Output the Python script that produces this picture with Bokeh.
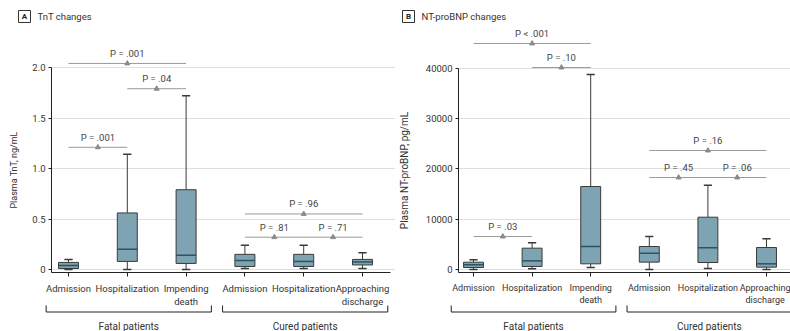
from bokeh.plotting import figure
from bokeh.layouts import row
from bokeh.models import FixedTicker, Range1d, ColumnDataSource, Grid
from bokeh.core.properties import value
from bokeh.embed import file_html
from bokeh.resources import INLINE

# ---------------- data ----------------
categories = ["Admission", "Hospitalization", "Impending\ndeath",
              "Admission", "Hospitalization", "Approaching\ndischarge"]
groups = ["Fatal patients", "Cured patients"]
group_first = [0, 3]
group_last = [2, 5]

# TnT, ng/mL (box plot statistics)
tnt_low = [0.0, 0.0, 0.0, 0.01, 0.01, 0.01]
tnt_q1 = [0.01, 0.08, 0.06, 0.03, 0.03, 0.045]
tnt_med = [0.04, 0.20, 0.14, 0.09, 0.08, 0.075]
tnt_q3 = [0.07, 0.56, 0.79, 0.15, 0.15, 0.10]
tnt_high = [0.10, 1.14, 1.72, 0.24, 0.24, 0.165]
tnt_ticks = [0, 0.5, 1.0, 1.5, 2.0]
tnt_tick_labels = ["0", "0.5", "1.0", "1.5", "2.0"]
tnt_p_from = [0, 0, 1, 3, 3, 4]
tnt_p_to = [1, 2, 2, 5, 4, 5]
tnt_p_level = [1.21, 2.04, 1.79, 0.55, 0.32, 0.32]
tnt_p_text = ["P = .001", "P = .001", "P = .04", "P = .96", "P = .81", "P = .71"]

# NT-proBNP, pg/mL
nt_low = [0, 150, 400, 0, 200, 0]
nt_q1 = [400, 600, 1130, 1460, 1390, 460]
nt_med = [930, 1720, 4570, 3250, 4310, 1130]
nt_q3 = [1450, 4240, 16500, 4570, 10400, 4370]
nt_high = [1930, 5300, 38770, 6560, 16760, 6100]
nt_ticks = [0, 10000, 20000, 30000, 40000]
nt_tick_labels = ["0", "10000", "20000", "30000", "40000"]
nt_p_from = [0, 1, 0, 3, 3, 4]
nt_p_to = [2, 2, 1, 5, 4, 5]
nt_p_level = [44930, 40160, 6560, 23660, 18290, 18290]
nt_p_text = ["P < .001", "P = .10", "P = .03", "P = .16", "P = .45", "P = .06"]

FONT_NAME = "Roboto"
FONT = value(FONT_NAME)
TXT = "#333333"
BOX_FILL = "#7ea3b3"
BOX_LINE = "#3a3a3a"
MED_LINE = "#2c5360"
P_LINE = "#9a9a9a"


def make_panel(letter, title, ylabel, low, q1, med, q3, high, ticks, tick_labels,
               p_from, p_to, p_level, p_text, lay):
    left, right, top, bottom = lay["left"], lay["right"], 0, 331
    cat0, sp, zero, ppu = lay["cat0"], lay["spacing"], 269, lay["ppu"]

    def dx(px):
        return (px - cat0) / sp

    def dy(py):
        return (zero - py) / ppu

    p = figure(width=right - left, height=bottom - top,
               x_range=Range1d(dx(left), dx(right)),
               y_range=Range1d(dy(bottom), dy(top)),
               output_backend="svg", toolbar_location=None,
               min_border_left=0, min_border_right=0,
               min_border_top=0, min_border_bottom=0)
    p.outline_line_color = None
    p.background_fill_color = "white"
    p.border_fill_color = "white"

    # ---- axes ----
    ya = p.yaxis[0]
    ya.fixed_location = dx(lay["yaxis"])
    ya.bounds = (dy(272), ticks[-1])
    ya.ticker = FixedTicker(ticks=ticks)
    ya.major_label_overrides = {t: l for t, l in zip(ticks, tick_labels)}
    ya.axis_label = ylabel
    ya.axis_label_text_font = FONT_NAME
    ya.axis_label_text_font_style = "normal"
    ya.axis_label_text_font_size = lay["ylab_size"]
    ya.axis_label_text_color = TXT
    ya.axis_label_standoff = lay["ylab_standoff"]
    ya.major_label_text_font = FONT_NAME
    ya.major_label_text_font_size = "9.5px"
    ya.major_label_text_color = TXT
    ya.major_label_standoff = 3
    ya.major_tick_out = 3
    ya.major_tick_in = 0
    ya.minor_tick_out = 0
    ya.minor_tick_in = 0
    ya.axis_line_color = "#222222"
    ya.major_tick_line_color = "#222222"

    xa = p.xaxis[0]
    xa.fixed_location = dy(272)
    xa.bounds = (dx(lay["yaxis"]), dx(lay["xright"]))
    xa.ticker = FixedTicker(ticks=list(range(len(categories))))
    xa.major_label_overrides = {i: c for i, c in enumerate(categories)}
    xa.major_label_text_font = FONT_NAME
    xa.major_label_text_font_size = lay["xlab_size"]
    xa.major_label_text_color = TXT
    xa.major_label_text_line_height = 1.25
    xa.major_label_standoff = 6
    xa.major_tick_out = 4
    xa.major_tick_in = 0
    xa.minor_tick_out = 0
    xa.minor_tick_in = 0
    xa.axis_line_color = "#222222"
    xa.major_tick_line_color = "#222222"

    p.xgrid.visible = False
    yg = p.ygrid[0]
    yg.ticker = FixedTicker(ticks=ticks)
    yg.grid_line_color = "#dedede"
    if "cross_bounds" in Grid.properties():
        yg.cross_bounds = (dx(lay["yaxis"]), dx(right))
    else:
        yg.visible = False
        p.segment(x0=[dx(lay["yaxis"])] * len(ticks), x1=[dx(right)] * len(ticks),
                  y0=ticks, y1=ticks, line_color="#dedede", line_width=1,
                  level="underlay")

    # ---- boxes ----
    xs = list(range(len(categories)))
    bw = 0.34
    cw = 0.07
    src = ColumnDataSource(dict(
        x=xs, low=low, q1=q1, med=med, q3=q3, high=high,
        xl=[x - bw / 2 for x in xs], xr=[x + bw / 2 for x in xs],
        cl=[x - cw for x in xs], cr=[x + cw for x in xs]))
    p.segment(x0="x", x1="x", y0="q3", y1="high", source=src, line_color=BOX_LINE, line_width=1)
    p.segment(x0="x", x1="x", y0="low", y1="q1", source=src, line_color=BOX_LINE, line_width=1)
    p.segment(x0="cl", x1="cr", y0="high", y1="high", source=src, line_color=BOX_LINE, line_width=1.5)
    p.segment(x0="cl", x1="cr", y0="low", y1="low", source=src, line_color=BOX_LINE, line_width=1.5)
    p.vbar(x="x", width=bw, bottom="q1", top="q3", source=src,
           fill_color=BOX_FILL, line_color=BOX_LINE, line_width=1)
    p.segment(x0="xl", x1="xr", y0="med", y1="med", source=src, line_color=MED_LINE, line_width=1.5)

    # ---- P value brackets ----
    psrc = ColumnDataSource(dict(
        x0=p_from, x1=p_to, y=p_level, t=p_text,
        xm=[(a + b) / 2 for a, b in zip(p_from, p_to)]))
    p.segment(x0="x0", x1="x1", y0="y", y1="y", source=psrc, line_color=P_LINE, line_width=1)
    p.scatter(x="xm", y="y", source=psrc, marker="triangle", size=5,
              fill_color="#8a8a8a", line_color="#8a8a8a")
    p.text(x="xm", y="y", text="t", source=psrc, text_font=FONT, text_font_size="9.5px",
           text_color="#444444", text_align="center", text_baseline="middle", y_offset=-10)

    # ---- group brackets ----
    bxs, bys, gx = [], [], []
    for a, b in zip(group_first, group_last):
        x0, x1 = a - 0.38, b + 0.43
        bxs.append([x0, x0, x1, x1])
        bys.append([dy(305), dy(311.5), dy(311.5), dy(305)])
        gx.append((x0 + x1) / 2)
    p.multi_line(xs=bxs, ys=bys, line_color="#222222", line_width=1)
    p.text(x=gx, y=[dy(326)] * len(gx), text=groups, text_font=FONT, text_font_size="10px",
           text_color=TXT, text_align="center", text_baseline="middle")

    # ---- panel title ----
    p.rect(x=[dx(lay["box_x"])], y=[dy(16)], width=12, height=12,
           width_units="screen", height_units="screen",
           fill_color="white", line_color="#333333", line_width=1)
    p.text(x=[dx(lay["box_x"])], y=[dy(16)], text=[letter], text_font=FONT,
           text_font_size="8px", text_font_style="bold", text_color="#222222",
           text_align="center", text_baseline="middle")
    p.text(x=[dx(lay["box_x"] + 13)], y=[dy(16)], text=[title], text_font=FONT,
           text_font_size="9.5px", text_color=TXT, text_align="left",
           text_baseline="middle")
    return p


lay_a = dict(left=0, right=395, cat0=68, spacing=58.8, ppu=101.0,
             yaxis=51, xright=390, box_x=24, ylab_size="9px", ylab_standoff=10,
             xlab_size="9.5px")
lay_b = dict(left=395, right=790, cat0=473, spacing=58.6, ppu=50.3 / 10000,
             yaxis=458, xright=790, box_x=408, ylab_size="10px", ylab_standoff=13,
             xlab_size="9px")

pa = make_panel("A", "TnT changes", "Plasma TnT, ng/mL",
                tnt_low, tnt_q1, tnt_med, tnt_q3, tnt_high, tnt_ticks, tnt_tick_labels,
                tnt_p_from, tnt_p_to, tnt_p_level, tnt_p_text, lay_a)
pb = make_panel("B", "NT-proBNP changes", "Plasma NT-proBNP, pg/mL",
                nt_low, nt_q1, nt_med, nt_q3, nt_high, nt_ticks, nt_tick_labels,
                nt_p_from, nt_p_to, nt_p_level, nt_p_text, lay_b)

layout = row(pa, pb)
open("out.html", "w").write(file_html(layout, INLINE))
